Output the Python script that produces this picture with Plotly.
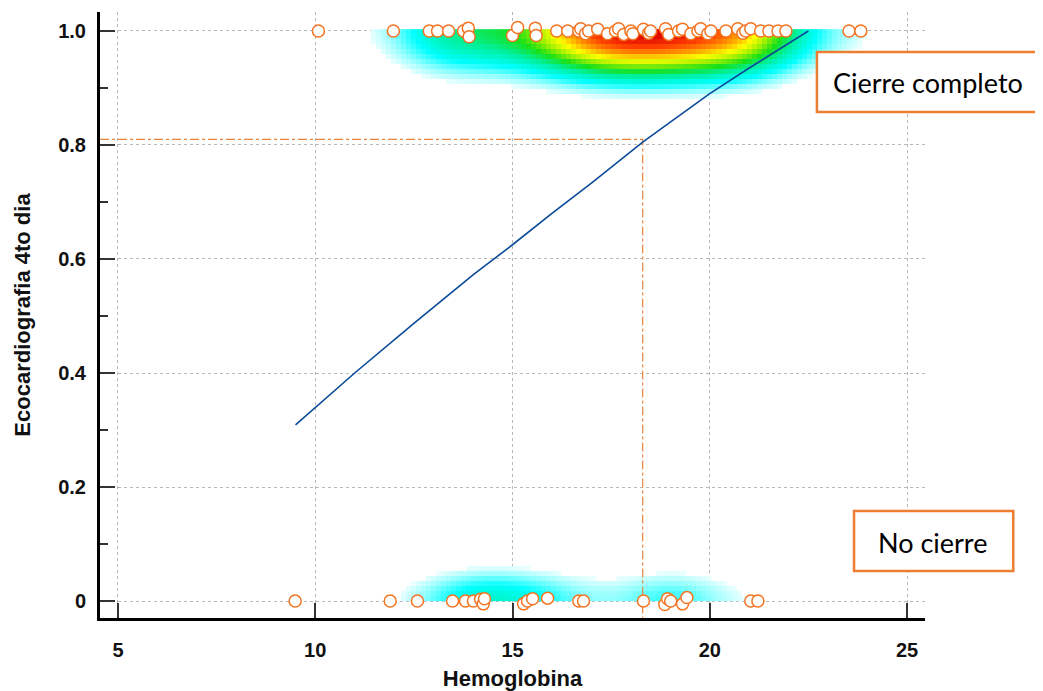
import numpy as np
import plotly.graph_objects as go

# ---------------- data ----------------
top_x = [10.08, 11.98, 12.89, 13.10, 13.38, 13.76, 13.88, 13.90, 15.00, 15.13,
         15.58, 15.60, 16.12, 16.40, 16.68, 16.73, 16.85, 16.93, 17.16, 17.41,
         17.61, 17.69, 17.82, 18.00, 18.05, 18.32, 18.45, 18.50, 18.88, 18.96,
         19.21, 19.31, 19.52, 19.70, 19.77, 19.95, 20.03, 20.41, 20.71, 20.84,
         20.91, 21.04, 21.29, 21.50, 21.73, 21.93, 23.53, 23.83]
top_y = [1.0, 1.0, 1.0, 1.0, 1.0, 1.0, 1.005, 0.99, 0.992, 1.006,
         1.005, 0.992, 1.0, 1.0, 1.0, 1.004, 0.995, 1.0, 1.003, 0.995,
         1.0, 1.004, 0.994, 1.0, 0.995, 1.003, 0.996, 1.0, 1.004, 0.994,
         1.0, 1.003, 0.995, 1.0, 1.004, 0.995, 1.0, 1.0, 1.004, 0.996,
         1.0, 1.004, 1.0, 1.0, 1.0, 1.0, 1.0, 1.0]

bottom_x = [9.49, 11.90, 12.59, 13.48, 13.81, 14.01, 14.19, 14.26, 14.29, 15.28,
            15.38, 15.51, 15.89, 16.68, 16.80, 18.32, 18.86, 18.93, 19.01, 19.31,
            19.42, 21.04, 21.22]
bottom_y = [0.0, 0.0, 0.0, 0.0, 0.0, 0.0, 0.003, -0.005, 0.004, -0.005,
            0.0, 0.004, 0.005, 0.0, 0.0, 0.0, -0.006, 0.004, 0.0, -0.005,
            0.006, 0.0, 0.0]

curve_x = [9.5, 11.0, 12.5, 14.0, 15.0, 16.0, 17.0, 18.3, 19.0, 20.0, 21.0, 22.5]
curve_y = [0.309, 0.40, 0.487, 0.572, 0.625, 0.68, 0.733, 0.805, 0.84, 0.89, 0.935, 1.0]

cutoff_x = 18.3
cutoff_y = 0.81

x_ticks = [5, 10, 15, 20, 25]
y_ticks = [0, 0.2, 0.4, 0.6, 0.8, 1.0]
y_tick_text = ["0", "0.2", "0.4", "0.6", "0.8", "1.0"]

x_range = [4.544, 25.456]
y_range = [-0.0298, 1.0333]

# ---------------- density shading derived from the points ----------------
dx = 0.127
dy = 0.0088
xe = np.arange(x_range[0], x_range[1] + dx, dx)
ye = np.round(np.arange(0.0, 1.0 + dy / 2, dy), 6)
xc = (xe[:-1] + xe[1:]) / 2
yc = (ye[:-1] + ye[1:]) / 2
hx = 1.1
XX, YY = np.meshgrid(xc, yc)

def band(xs, base, hy):
    dens = np.zeros_like(XX)
    for v in xs:
        dens += np.exp(-((XX - v) ** 2) / (2 * hx ** 2))
    return dens * np.exp(-((YY - base) ** 2) / (2 * hy ** 2))

z_top = band(top_x, 1.0, 0.062)
top_max = z_top.max()
z_bot = band(bottom_x, 0.0, 0.045) * 0.72
z = (z_top + z_bot) / top_max
z = np.where(z < 0.15, np.nan, z)
z = np.minimum(z, 1.0)

colorscale = [
    [0.0, "#ffffff"], [0.15, "#eaffff"], [0.22, "#90ffff"], [0.31, "#00ffff"],
    [0.43, "#00f0a0"], [0.53, "#18e018"], [0.63, "#a8f000"], [0.71, "#ffff00"],
    [0.8, "#ffa000"], [0.9, "#ff4000"], [1.0, "#dc0000"],
]

fig = go.Figure()
fig.add_trace(go.Heatmap(x=xe, y=ye, z=z, colorscale=colorscale, zmin=0, zmax=1,
                         showscale=False, zsmooth=False, hoverinfo="skip"))

# reference dash-dot lines
fig.add_trace(go.Scatter(x=[x_range[0], cutoff_x, cutoff_x], y=[cutoff_y, cutoff_y, y_range[0]],
                         mode="lines", line=dict(color="#e8843c", width=1.2, dash="dashdot"),
                         showlegend=False, hoverinfo="skip"))

# fitted curve
fig.add_trace(go.Scatter(x=curve_x, y=curve_y, mode="lines",
                         line=dict(color="#0a4a9a", width=1.6), showlegend=False))

marker = dict(symbol="circle", size=12, color="white",
              line=dict(color="#f47421", width=1.5))
fig.add_trace(go.Scatter(x=top_x, y=top_y, mode="markers", marker=marker, showlegend=False))
fig.add_trace(go.Scatter(x=bottom_x, y=bottom_y, mode="markers", marker=marker, showlegend=False))

tick_font = dict(family="Liberation Sans", size=20, color="#111111", weight="bold")
title_font = dict(family="Liberation Sans", size=22, color="#111111", weight="bold")

fig.update_layout(
    width=1035, height=683,
    margin=dict(l=92, r=118, t=4, b=73),
    paper_bgcolor="white", plot_bgcolor="white",
    xaxis=dict(range=x_range, tickvals=x_ticks, ticks="inside", ticklen=15, tickwidth=2,
               tickcolor="#333333", showline=True, linewidth=3, linecolor="black",
               showgrid=True, gridcolor="#b8b8b8", griddash="dot", gridwidth=1,
               zeroline=False, tickfont=tick_font, ticklabelstandoff=12, automargin=False,
               title=dict(text="Hemoglobina", font=title_font, standoff=20)),
    yaxis=dict(range=y_range, tickvals=y_ticks, ticktext=y_tick_text, ticks="inside",
               ticklen=15, tickwidth=2, tickcolor="#333333", showline=True, linewidth=3,
               linecolor="black", showgrid=True, gridcolor="#b8b8b8", griddash="dot",
               gridwidth=1, zeroline=False, tickfont=tick_font, ticklabelstandoff=7,
               automargin=False,
               minor=dict(ticks="inside", ticklen=8, tickwidth=1.5, tickcolor="#333333",
                          dtick=0.1, showgrid=False),
               title=dict(text="Ecocardiografia 4to dia", font=title_font, standoff=22)),
)

# annotation boxes
box_line = dict(color="#ed7d31", width=2.5)
fig.add_shape(type="rect", xref="paper", yref="paper", x0=0.869, x1=1.139, y0=0.835, y1=0.934,
              line=box_line, fillcolor="white", layer="above")
fig.add_shape(type="rect", xref="paper", yref="paper", x0=0.914, x1=1.107, y0=0.0776, y1=0.1766,
              line=box_line, fillcolor="white", layer="above")
box_font = dict(family="Lato", size=27, color="black")
fig.add_annotation(xref="paper", yref="paper", x=1.004, y=0.884, text="Cierre completo",
                   showarrow=False, font=box_font, xanchor="center", yanchor="middle")
fig.add_annotation(xref="paper", yref="paper", x=1.0085, y=0.125, text="No cierre",
                   showarrow=False, font=box_font, xanchor="center", yanchor="middle")

fig.write_html("out.html")
